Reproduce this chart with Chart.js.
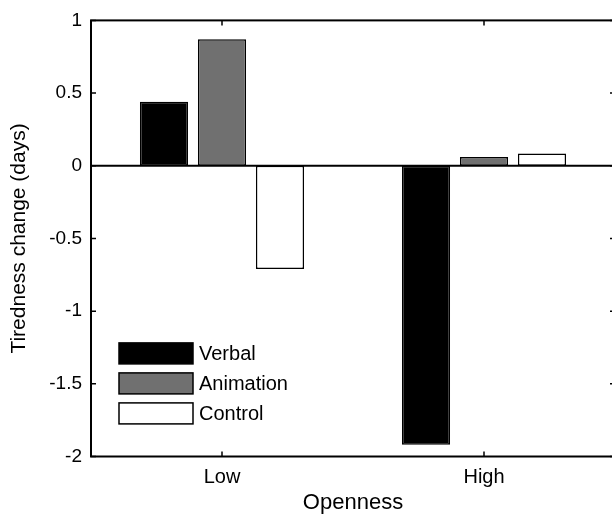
<!DOCTYPE html>
<html>
<head>
<meta charset="utf-8">
<script src="https://cdn.jsdelivr.net/npm/chart.js@4/dist/chart.umd.min.js"></script>
<style>
html,body{margin:0;padding:0;overflow:hidden;background:#fff;}
#wrap{width:616px;height:516px;}
</style>
</head>
<body>
<div id="wrap"><canvas id="c" width="616" height="516"></canvas></div>
<script>
// ---- data ----
const categories = ['Low', 'High'];
const seriesNames = ['Verbal', 'Animation', 'Control'];
const verbal = [0.44, -1.92];
const animation = [0.87, 0.06];
const control = [-0.71, 0.085];
const yMin = -2, yMax = 1, yStep = 0.5;
const xTitle = 'Openness';
const yTitle = 'Tiredness change (days)';

const fills = ['#000000', '#707070', '#ffffff'];
const FONT = '"Liberation Sans", Arial, Helvetica, sans-serif';

const framePlugin = {
  id: 'frame',
  beforeDatasetsDraw(chart) {
    const {ctx, chartArea: a, scales: {y}} = chart;
    const z = y.getPixelForValue(0);
    ctx.save();
    ctx.strokeStyle = '#000';
    ctx.lineWidth = 2;
    ctx.beginPath();
    ctx.moveTo(a.left, z); ctx.lineTo(a.right, z);
    ctx.stroke();
    ctx.restore();
  },
  afterDatasetsDraw(chart) {
    const {ctx, chartArea: a, scales: {x, y}} = chart;
    ctx.save();
    ctx.strokeStyle = '#000';
    ctx.lineWidth = 2;
    ctx.strokeRect(a.left, a.top, a.right - a.left, a.bottom - a.top);
    ctx.lineWidth = 1.5;
    const tl = 5;
    ctx.beginPath();
    y.ticks.forEach(t => {
      const py = y.getPixelForValue(t.value);
      ctx.moveTo(a.left, py); ctx.lineTo(a.left + tl, py);
      ctx.moveTo(a.right, py); ctx.lineTo(a.right - tl, py);
    });
    x.ticks.forEach((t, i) => {
      const px = x.getPixelForTick(i);
      ctx.moveTo(px, a.top); ctx.lineTo(px, a.top + tl);
      ctx.moveTo(px, a.bottom); ctx.lineTo(px, a.bottom - tl);
    });
    ctx.stroke();
    // legend
    const bx = a.left + 28, bw = 74, bh = 21, rowStep = 30;
    const y0 = a.top + 333;
    ctx.font = '20px ' + FONT;
    ctx.textBaseline = 'middle';
    ctx.textAlign = 'left';
    chart.data.datasets.forEach((ds, i) => {
      const cy = y0 + i * rowStep;
      ctx.fillStyle = ds.backgroundColor;
      ctx.fillRect(bx, cy - bh / 2, bw, bh);
      ctx.lineWidth = 1.5;
      ctx.strokeStyle = '#000';
      ctx.strokeRect(bx, cy - bh / 2, bw, bh);
      ctx.fillStyle = '#000';
      ctx.fillText(ds.label, bx + bw + 6, cy + 1.5);
    });
    ctx.restore();
  }
};

new Chart(document.getElementById('c'), {
  type: 'bar',
  data: {
    labels: categories,
    datasets: [verbal, animation, control].map((vals, i) => ({
      label: seriesNames[i],
      data: vals,
      backgroundColor: fills[i],
      borderColor: '#000',
      borderWidth: 1.5,
      borderSkipped: false,
      categoryPercentage: 0.664,
      barPercentage: 0.83
    }))
  },
  options: {
    responsive: false,
    animation: false,
    devicePixelRatio: 1,
    layout: {padding: {left: 0, top: 19, right: 1, bottom: 0}},
    plugins: {legend: {display: false}, tooltip: {enabled: false}},
    scales: {
      x: {
        offset: true,
        grid: {display: false, drawTicks: false},
        border: {display: false},
        ticks: {color: '#000', font: {family: FONT, size: 20}, padding: 9},
        title: {display: true, text: xTitle, color: '#000', font: {family: FONT, size: 22}, padding: {top: 0, bottom: 0}},
        afterFit(s) { s.height = 59.5; }
      },
      y: {
        min: yMin, max: yMax,
        grid: {display: false, drawTicks: false},
        border: {display: false},
        ticks: {
          stepSize: yStep,
          color: '#000',
          font: {family: FONT, size: 19},
          padding: 9,
          callback: v => String(Math.round(v * 10) / 10)
        },
        title: {display: true, text: yTitle, color: '#000', font: {family: FONT, size: 21}, padding: {top: 7, bottom: 0}},
        afterFit(s) { s.width = 91; }
      }
    }
  },
  plugins: [framePlugin]
});
</script>
</body>
</html>
